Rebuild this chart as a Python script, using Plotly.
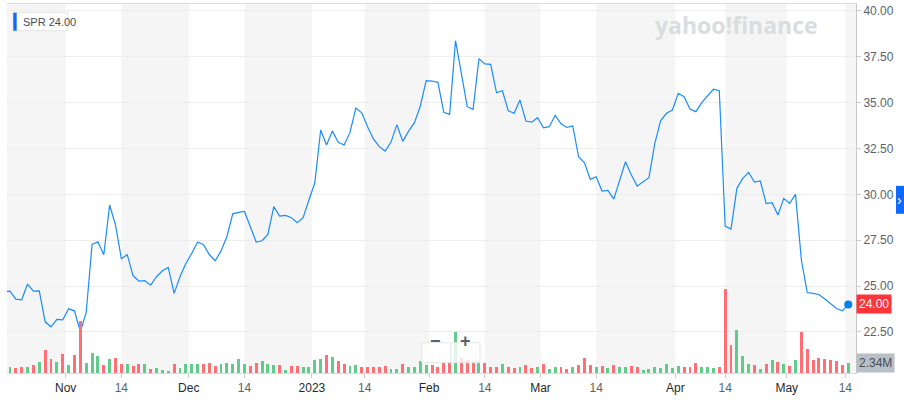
import pandas as pd
import plotly.graph_objects as go

# trading calendar Oct 17 2022 -> May 15 2023 (US market holidays removed)
holidays = ["2022-11-24", "2022-12-26", "2023-01-02", "2023-01-16", "2023-02-20", "2023-04-07"]
dates = pd.bdate_range("2022-10-17", "2023-05-15")
dates = dates[~dates.isin(pd.to_datetime(holidays))]

close = [
    24.70,
    24.72, 24.29, 24.25, 25.11, 24.72, 24.74, 23.05, 22.78, 23.18, 23.16,
    23.76, 23.65, 22.51, 23.56, 27.27, 27.42, 26.71, 29.42, 28.33, 26.49,
    26.71, 25.56, 25.27, 25.30, 25.05, 25.51, 25.83, 26.02, 24.60, 25.51,
    26.23, 26.78, 27.40, 27.25, 26.72, 26.38, 26.92, 27.69, 28.94, 29.02,
    29.07, 28.23, 27.40, 27.47, 27.82, 29.33, 28.82, 28.85, 28.73, 28.45,
    28.73, 29.69, 30.63, 33.51, 32.69, 33.45, 32.84, 32.69, 33.38, 34.71,
    34.45, 33.69, 33.02, 32.60, 32.36, 32.85, 33.80, 32.89, 33.45, 33.91,
    34.82, 36.20, 36.18, 36.11, 34.47, 34.36, 38.38, 36.60, 34.78, 34.64,
    37.40, 37.11, 37.09, 35.54, 35.65, 34.56, 34.42, 35.14, 34.00, 33.94,
    34.18, 33.63, 33.69, 34.31, 33.85, 33.65, 33.73, 32.05, 31.72, 30.82,
    30.96, 30.18, 30.22, 29.74, 30.78, 31.78, 31.05, 30.45, 30.69, 30.91,
    32.78, 34.02, 34.42, 34.60, 35.51, 35.33, 34.65, 34.51, 35.00, 35.36,
    35.73, 35.65, 28.27, 28.11, 30.33, 30.87, 31.20, 30.67, 30.73, 29.50,
    29.55, 28.87, 29.78, 29.51, 30.00, 26.42, 24.65, 24.60, 24.54, 24.29,
    24.02, 23.78, 23.65, 24.00,
]

# volume, millions of shares
volume_m = [
    1.50,
    1.33, 1.17, 1.33, 1.33, 1.87, 2.57, 5.46, 3.35, 2.57, 4.45,
    1.87, 4.29, 12.25, 2.34, 4.60, 3.90, 1.87, 3.20, 3.59, 2.03,
    2.03, 1.72, 2.18, 2.03, 1.01, 1.17, 0.78, 0.47, 2.03, 1.25,
    2.03, 2.03, 2.03, 2.03, 2.42, 1.56, 2.03, 2.34, 2.18, 3.28,
    2.18, 1.56, 2.42, 2.73, 2.03, 1.87, 1.87, 0.62, 1.56, 1.72,
    1.40, 1.48, 3.12, 3.35, 4.13, 3.74, 2.89, 2.03, 1.56, 1.87,
    1.40, 1.48, 1.48, 1.33, 1.72, 1.01, 0.94, 2.18, 1.48, 1.48,
    2.89, 1.87, 1.87, 1.33, 2.50, 2.50, 9.59, 3.43, 3.12, 2.73,
    2.73, 2.34, 1.48, 1.48, 2.18, 1.33, 1.25, 1.33, 1.95, 1.17,
    1.33, 2.18, 1.01, 1.33, 1.48, 1.01, 1.33, 1.87, 3.59, 1.87,
    1.48, 1.72, 1.17, 1.87, 1.48, 1.48, 1.72, 1.33, 0.62, 1.01,
    1.48, 1.17, 2.18, 1.17, 1.72, 1.33, 1.48, 2.42, 1.48, 1.33,
    1.17, 1.33, 19.66, 6.47, 10.14, 4.06, 2.18, 1.87, 0.86, 2.03,
    3.12, 2.57, 2.18, 1.72, 3.12, 9.59, 5.54, 3.12, 3.43, 3.35,
    3.12, 2.89, 1.87, 2.34,
]

ticker = "SPR"
last_price = close[-1]
last_volume = volume_m[-1]

x = list(range(len(dates)))
x_range = [0.49, 145.32]

bar_colors = ["#62cb8c" if i > 0 and close[i] > close[i - 1] else "#ff6f73" for i in range(len(close))]

# month / mid-month ticks, and the shaded half-month bands
tickvals, ticktext = [], []
band_start = x_range[0]
bands = []
for i, d in enumerate(dates):
    if i == 0:
        continue
    prev = dates[i - 1]
    if d.month != prev.month:
        pos = i - 0.5
        label = "2023" if d.month == 1 else d.strftime("%b")
        tickvals.append(pos)
        ticktext.append('<span style="color:#232a31">' + label + "</span>")
        if band_start is not None:
            bands.append((band_start, pos))
            band_start = None
    elif d.day >= 14 and prev.day < 14:
        pos = i if d.day == 14 else i - 0.5
        tickvals.append(pos)
        ticktext.append("14")
        band_start = pos
if band_start is not None:
    bands.append((band_start, x_range[1]))

fig = go.Figure()

fig.add_trace(go.Scatter(
    x=x, y=close, mode="lines",
    line={"color": "#1a8cff", "width": 1.2},
    hoverinfo="skip", yaxis="y"))
fig.add_trace(go.Scatter(
    x=[x[-1]], y=[last_price], mode="markers",
    marker={"color": "#0081f2", "size": 8},
    hoverinfo="skip", yaxis="y"))
fig.add_trace(go.Bar(
    x=x, y=volume_m, marker={"color": bar_colors, "line": {"width": 0}},
    width=0.5, hoverinfo="skip", yaxis="y2"))

shapes = []
for x0, x1 in bands:
    shapes.append(dict(type="rect", xref="x", yref="paper", x0=x0, x1=x1, y0=0, y1=1,
                       fillcolor="#f5f5f5", line={"width": 0}, layer="below"))

# legend chip top-left
shapes.append(dict(type="rect", xref="paper", yref="paper", x0=0.0074, x1=0.0715, y0=0.9276, y1=0.9764,
                   fillcolor="white", line={"color": "#e4e4e4", "width": 1}, layer="above"))
shapes.append(dict(type="rect", xref="paper", yref="paper", x0=0.0074, x1=0.0114, y0=0.9276, y1=0.9764,
                   fillcolor="#0f69ff", line={"width": 0}, layer="above"))
# zoom buttons
shapes.append(dict(type="rect", xref="paper", yref="paper", x0=0.4885, x1=0.5571, y0=0.028, y1=0.082,
                   fillcolor="rgba(255,255,255,0.8)", line={"color": "#e6e6e6", "width": 1}, layer="above"))
shapes.append(dict(type="line", xref="paper", yref="paper", x0=0.5226, x1=0.5226, y0=0.028, y1=0.082,
                   line={"color": "#e6e6e6", "width": 1}, layer="above"))
# blue tab at right edge
shapes.append(dict(type="rect", xref="paper", yref="paper", x0=1.0471, x1=1.062, y0=0.4314, y1=0.5072,
                   fillcolor="#0f69ff", line={"width": 0}, layer="above"))

annotations = [
    dict(xref="paper", yref="paper", x=0.0161, y=0.952, xanchor="left", yanchor="middle",
         text=ticker + " " + f"{last_price:.2f}", showarrow=False,
         font={"size": 11, "color": "#464e56"}),
    dict(xref="paper", yref="paper", x=0.8587, y=0.943, xanchor="center", yanchor="middle",
         text="<b>yahoo!finance</b>", showarrow=False,
         font={"family": "Open Sans, Liberation Sans, sans-serif", "size": 23, "color": "#dadde0"}),
    dict(xref="paper", yref="y", x=1.0, y=last_price, xanchor="left", yanchor="middle",
         text=f"{last_price:.2f}", showarrow=False, bgcolor="#ff333a", borderpad=2,
         font={"size": 12, "color": "white"}),
    dict(xref="paper", yref="y2", x=1.0, y=last_volume, xanchor="left", yanchor="middle",
         text=f"{last_volume:.2f}M", showarrow=False, bgcolor="#b9bfc6", borderpad=2,
         font={"size": 12, "color": "#464e56"}),
    dict(xref="paper", yref="paper", x=0.5053, y=0.055, text="<b>−</b>", showarrow=False,
         font={"size": 18, "color": "#5b636a"}),
    dict(xref="paper", yref="paper", x=0.5406, y=0.055, text="<b>+</b>", showarrow=False,
         font={"size": 18, "color": "#5b636a"}),
    dict(xref="paper", yref="paper", x=1.056, y=0.469, text="›", showarrow=False,
         font={"size": 14, "color": "white"}),
]

fig.update_layout(
    width=904, height=406,
    margin={"l": 7, "r": 48, "t": 4, "b": 33},
    paper_bgcolor="white", plot_bgcolor="white",
    font={"family": "Liberation Sans, Arial, sans-serif", "size": 12, "color": "#5b636a"},
    showlegend=False,
    bargap=0,
    xaxis={
        "range": x_range, "tickvals": tickvals, "ticktext": ticktext,
        "showgrid": False, "zeroline": False,
        "showline": True, "linecolor": "#dcdcdc", "mirror": True,
        "ticks": "outside", "ticklen": 4, "tickcolor": "#cccccc",
        "tickfont": {"size": 12, "color": "#5b636a"},
    },
    yaxis={
        "range": [20.26, 40.38], "side": "right",
        "tickvals": [22.5, 25, 27.5, 30, 32.5, 35, 37.5, 40], "tickformat": ".2f",
        "showgrid": True, "gridcolor": "#ededed", "zeroline": False,
        "showline": True, "linecolor": "#c8c8c8",
        "ticks": "outside", "ticklen": 4, "tickcolor": "#cccccc",
        "tickfont": {"size": 12, "color": "#5b636a"},
    },
    yaxis2={"range": [0, 86.3], "overlaying": "y", "visible": False},
    shapes=shapes,
    annotations=annotations,
)

# page body has a default 8px margin; drop it so the figure sits at the window origin
fig.write_html("out.html", config={"displayModeBar": False},
               post_script="document.body.style.margin='0';")
